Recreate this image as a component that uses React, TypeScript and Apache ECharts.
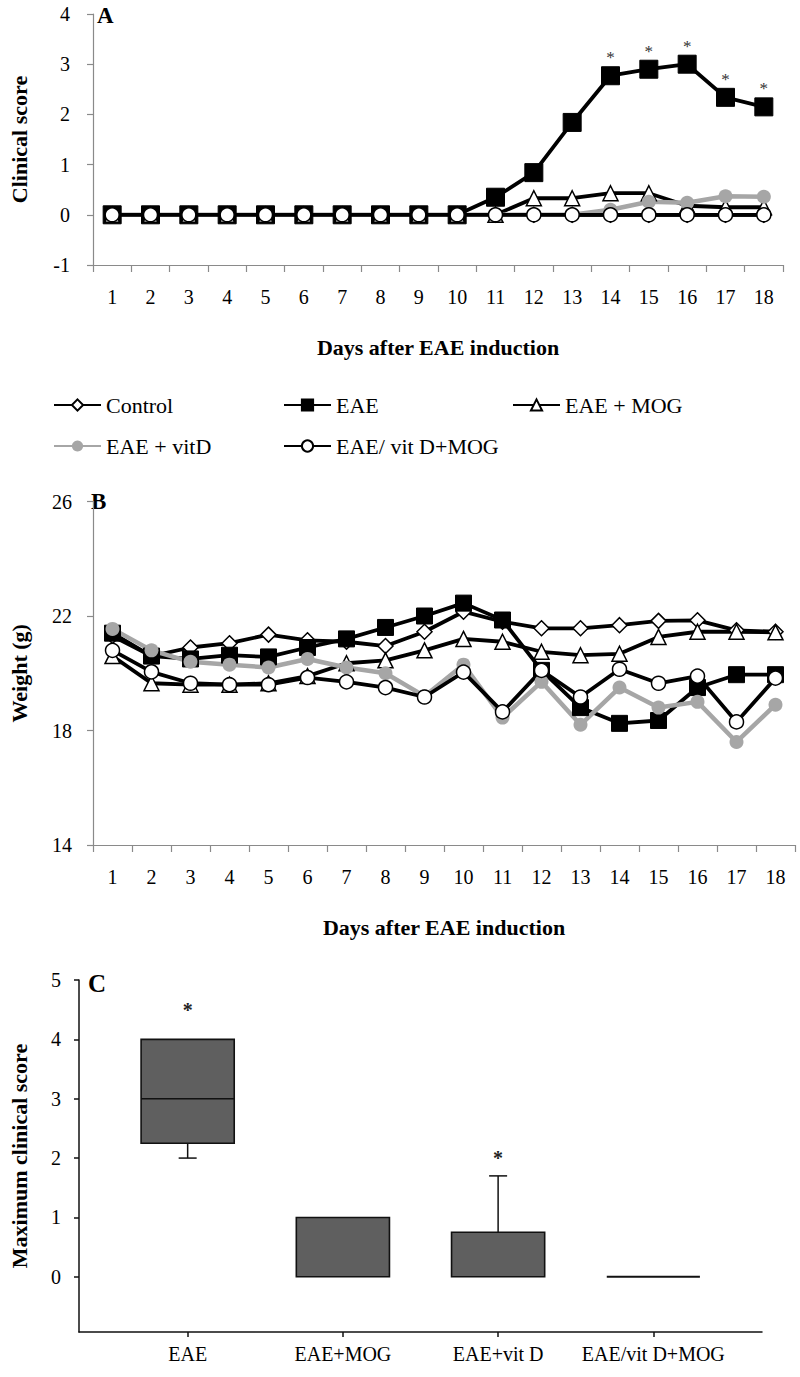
import React, { useEffect, useRef } from "react";
import * as echarts from "echarts";

const days = ["1","2","3","4","5","6","7","8","9","10","11","12","13","14","15","16","17","18"];
const seriesNames = ["Control", "EAE", "EAE + MOG", "EAE + vitD", "EAE/ vit D+MOG"];

// Panel A: clinical score
const scoreControl = [0,0,0,0,0,0,0,0,0,0,0,0,0,0,0,0,0,0];
const scoreEAE = [0,0,0,0,0,0,0,0,0,0,0.35,0.84,1.84,2.77,2.9,3.0,2.34,2.15];
const scoreEAEMOG = [0,0,0,0,0,0,0,0,0,0,0,0.33,0.33,0.43,0.43,0.18,0.15,0.15];
const scoreEAEVitD = [0,0,0,0,0,0,0,0,0,0,0,0,0,0.1,0.26,0.24,0.37,0.36];
const scoreEAEVitDMOG = [0,0,0,0,0,0,0,0,0,0,0,0,0,0,0,0,0,0];
const starDays = ["14","15","16","17","18"];

// Panel B: weight (g)
const weightControl = [21.3,20.6,20.9,21.05,21.35,21.15,21.1,20.95,21.45,22.15,21.8,21.57,21.57,21.68,21.83,21.85,21.5,21.45];
const weightEAE = [21.4,20.6,20.5,20.63,20.57,20.9,21.2,21.6,22.0,22.45,21.86,20.1,18.8,18.25,18.35,19.5,19.95,19.95];
const weightEAEMOG = [20.6,19.65,19.6,19.6,19.65,19.9,20.35,20.45,20.8,21.2,21.1,20.75,20.63,20.68,21.27,21.45,21.45,21.43];
const weightEAEVitD = [21.55,20.8,20.4,20.3,20.2,20.5,20.2,20.0,19.2,20.3,18.45,19.7,18.2,19.5,18.8,19.0,17.6,18.9];
const weightEAEVitDMOG = [20.8,20.05,19.65,19.6,19.6,19.85,19.7,19.5,19.17,20.04,18.65,20.1,19.17,20.14,19.65,19.9,18.3,19.83];

// Panel C: maximum clinical score box plot
const groups = ["EAE", "EAE+MOG", "EAE+vit D", "EAE/vit D+MOG"];
const boxMin = [2, 0, 0, 0];
const boxQ1 = [2.25, 0, 0, 0];
const boxMedian = [3, 0, 0, 0];
const boxQ3 = [4, 1, 0.75, 0];
const boxMax = [4, 1, 1.7, 0];
const sigMark: (number | null)[] = [4.5, null, 2.0, null];

const scoreTicks = [-1, 0, 1, 2, 3, 4];
const weightTicks = [14, 18, 22, 26];
const boxTicks = [0, 1, 2, 3, 4, 5];

const FONT = "'Liberation Serif', 'Times New Roman', serif";
const GREY_AXIS = "#8a8a8a";

function lineSeries(name: string, data: number[], grid: number, big: boolean) {
  const base: any = {
    name,
    type: "line",
    xAxisIndex: grid,
    yAxisIndex: grid,
    data,
    z: 2,
  };
  const lw = 3.8;
  if (name === "Control") {
    return { ...base, symbol: "diamond", symbolSize: 15, lineStyle: { color: "#000", width: lw }, itemStyle: { color: "#fff", borderColor: "#000", borderWidth: 1.5 } };
  }
  if (name === "EAE") {
    return { ...base, symbol: "rect", symbolSize: big ? 18 : 16, lineStyle: { color: "#000", width: lw }, itemStyle: { color: "#000", borderColor: "#000", borderWidth: 1 } };
  }
  if (name === "EAE + MOG") {
    return { ...base, symbol: "triangle", symbolSize: 15, lineStyle: { color: "#000", width: lw }, itemStyle: { color: "#fff", borderColor: "#000", borderWidth: 1.5 } };
  }
  if (name === "EAE + vitD") {
    return { ...base, symbol: "circle", symbolSize: 14, lineStyle: { color: "#a6a6a6", width: 4.5 }, itemStyle: { color: "#a6a6a6", borderColor: "#a6a6a6", borderWidth: 0 } };
  }
  return { ...base, symbol: "circle", symbolSize: 14, lineStyle: { color: "#000", width: lw }, itemStyle: { color: "#fff", borderColor: "#000", borderWidth: 1.5 } };
}

function catAxis(grid: number) {
  return {
    type: "category",
    gridIndex: grid,
    data: days,
    boundaryGap: true,
    axisLine: { show: true, onZero: false, lineStyle: { color: GREY_AXIS, width: 1.2 } },
    axisTick: { show: true, length: 7, lineStyle: { color: GREY_AXIS, width: 1.2 } },
    axisLabel: { color: "#000", fontSize: 20, fontFamily: FONT, margin: 22 },
    name: "Days after EAE induction",
    nameLocation: "middle",
    nameGap: 71,
    nameTextStyle: { color: "#000", fontSize: 22, fontWeight: "bold", fontFamily: FONT },
    splitLine: { show: false },
  };
}

export default function App() {
  const ref = useRef<HTMLDivElement>(null);
  useEffect(() => {
    document.body.style.margin = "0";
    const chart = echarts.init(ref.current!, null, { renderer: "svg" });

    const legendPos = [
      { left: 53, top: 394 },
      { left: 283, top: 394 },
      { left: 512, top: 394 },
      { left: 53, top: 435 },
      { left: 283, top: 435 },
    ];

    const boxRows = groups.map((g, i) => [i + 1, boxMin[i], boxQ1[i], boxMedian[i], boxQ3[i], boxMax[i], sigMark[i] == null ? NaN : sigMark[i]]);

    const option: any = {
      animation: false,
      backgroundColor: "#fff",
      textStyle: { fontFamily: FONT },
      legend: seriesNames.map((n, i) => ({
        data: [n],
        left: legendPos[i].left,
        top: legendPos[i].top,
        padding: 0,
        itemWidth: 47,
        itemHeight: 14,
        selectedMode: false,
        textStyle: { color: "#000", fontSize: 22, fontFamily: FONT },
      })),
      grid: [
        { left: 88, right: 17, top: 14, height: 251 },
        { left: 88, right: 5, top: 501.5, height: 343.5 },
        { left: 73, right: 38, top: 980, height: 352 },
      ],
      xAxis: [
        catAxis(0),
        catAxis(1),
        {
          type: "value",
          gridIndex: 2,
          min: 0.3,
          max: 4.7,
          axisLine: { show: true, onZero: false, lineStyle: { color: "#111", width: 1.5 } },
          axisTick: { show: true, length: 5, customValues: [1, 2, 3, 4], lineStyle: { color: "#111", width: 1.5 } },
          axisLabel: {
            customValues: [1, 2, 3, 4],
            color: "#000",
            fontSize: 20,
            fontFamily: FONT,
            margin: 12,
            formatter: (v: number) => groups[Math.round(v) - 1] ?? "",
          },
          splitLine: { show: false },
        },
      ],
      yAxis: [
        {
          type: "value",
          gridIndex: 0,
          min: -1,
          max: 4,
          interval: 1,
          axisLine: { show: true, lineStyle: { color: GREY_AXIS, width: 1.2 } },
          axisTick: { show: true, length: 6, lineStyle: { color: GREY_AXIS, width: 1.2 } },
          axisLabel: { color: "#000", fontSize: 20, fontFamily: FONT, margin: 23, customValues: scoreTicks },
          splitLine: { show: false },
          name: "Clinical score",
          nameLocation: "middle",
          nameGap: 63,
          nameTextStyle: { color: "#000", fontSize: 22, fontWeight: "bold", fontFamily: FONT },
        },
        {
          type: "value",
          gridIndex: 1,
          min: 14,
          max: 26,
          interval: 4,
          axisLine: { show: true, lineStyle: { color: GREY_AXIS, width: 1.2 } },
          axisTick: { show: true, length: 6, lineStyle: { color: GREY_AXIS, width: 1.2 } },
          axisLabel: { color: "#000", fontSize: 20, fontFamily: FONT, margin: 21, customValues: weightTicks },
          splitLine: { show: false },
          name: "Weight (g)",
          nameLocation: "middle",
          nameGap: 63,
          nameTextStyle: { color: "#000", fontSize: 22, fontWeight: "bold", fontFamily: FONT },
        },
        {
          type: "value",
          gridIndex: 2,
          min: -0.93,
          max: 5,
          axisLine: { show: true, lineStyle: { color: "#111", width: 1.5 } },
          axisTick: { show: true, length: 5, customValues: boxTicks, lineStyle: { color: "#111", width: 1.5 } },
          axisLabel: { color: "#000", fontSize: 20, fontFamily: FONT, margin: 18, customValues: boxTicks },
          splitLine: { show: false },
          name: "Maximum clinical score",
          nameLocation: "middle",
          nameGap: 49,
          nameTextStyle: { color: "#000", fontSize: 22, fontWeight: "bold", fontFamily: FONT },
        },
      ],
      graphic: [
        { type: "text", left: 97, top: 4, style: { text: "A", font: `bold 23px ${FONT}`, fill: "#000" } },
        { type: "text", left: 91, top: 490, style: { text: "B", font: `bold 23px ${FONT}`, fill: "#000" } },
        { type: "text", left: 88, top: 971, style: { text: "C", font: `bold 25px ${FONT}`, fill: "#000" } },
      ],
      series: [
        lineSeries("Control", scoreControl, 0, true),
        {
          ...lineSeries("EAE", scoreEAE, 0, true),
          label: {
            show: true,
            position: "top",
            distance: 0,
            fontSize: 17,
            color: "#333",
            fontFamily: FONT,
            formatter: (p: any) => (starDays.includes(days[p.dataIndex]) ? "*" : ""),
          },
        },
        lineSeries("EAE + MOG", scoreEAEMOG, 0, true),
        lineSeries("EAE + vitD", scoreEAEVitD, 0, true),
        lineSeries("EAE/ vit D+MOG", scoreEAEVitDMOG, 0, true),
        lineSeries("Control", weightControl, 1, false),
        lineSeries("EAE", weightEAE, 1, false),
        lineSeries("EAE + MOG", weightEAEMOG, 1, false),
        lineSeries("EAE + vitD", weightEAEVitD, 1, false),
        lineSeries("EAE/ vit D+MOG", weightEAEVitDMOG, 1, false),
        {
          type: "custom",
          name: "box",
          xAxisIndex: 2,
          yAxisIndex: 2,
          data: boxRows,
          encode: { x: 0, y: [1, 2, 3, 4, 5] },
          renderItem: (params: any, api: any) => {
            const x = api.value(0);
            const mn = api.value(1);
            const q1 = api.value(2);
            const md = api.value(3);
            const q3 = api.value(4);
            const mx = api.value(5);
            const sig = api.value(6);
            const bw = api.size([1, 0])[0] * 0.6;
            const cap = 9;
            const pQ1 = api.coord([x, q1]);
            const pQ3 = api.coord([x, q3]);
            const pMd = api.coord([x, md]);
            const pMn = api.coord([x, mn]);
            const pMx = api.coord([x, mx]);
            const cx = pQ1[0];
            const children: any[] = [];
            if (mn < q1) {
              children.push({ type: "line", shape: { x1: cx, y1: pQ1[1], x2: cx, y2: pMn[1] }, style: { stroke: "#111", lineWidth: 1.5 } });
              children.push({ type: "line", shape: { x1: cx - cap, y1: pMn[1], x2: cx + cap, y2: pMn[1] }, style: { stroke: "#111", lineWidth: 1.5 } });
            }
            if (mx > q3) {
              children.push({ type: "line", shape: { x1: cx, y1: pQ3[1], x2: cx, y2: pMx[1] }, style: { stroke: "#111", lineWidth: 1.5 } });
              children.push({ type: "line", shape: { x1: cx - cap, y1: pMx[1], x2: cx + cap, y2: pMx[1] }, style: { stroke: "#111", lineWidth: 1.5 } });
            }
            if (q3 > q1) {
              children.push({ type: "rect", shape: { x: cx - bw / 2, y: pQ3[1], width: bw, height: pQ1[1] - pQ3[1] }, style: { fill: "#5f5f5f", stroke: "#111", lineWidth: 1.6 } });
            } else {
              children.push({ type: "line", shape: { x1: cx - bw / 2, y1: pQ1[1], x2: cx + bw / 2, y2: pQ1[1] }, style: { stroke: "#111", lineWidth: 2 } });
            }
            if (md > q1 && md < q3) {
              children.push({ type: "line", shape: { x1: cx - bw / 2, y1: pMd[1], x2: cx + bw / 2, y2: pMd[1] }, style: { stroke: "#111", lineWidth: 1.5 } });
            }
            if (!isNaN(sig)) {
              const ps = api.coord([x, sig]);
              children.push({ type: "text", x: ps[0], y: ps[1], style: { text: "*", font: `bold 20px ${FONT}`, fill: "#222", align: "center", verticalAlign: "middle" } });
            }
            return { type: "group", children };
          },
        },
      ],
    };
    chart.setOption(option);
    return () => chart.dispose();
  }, []);
  return <div ref={ref} style={{ width: 800, height: 1377 }} />;
}
